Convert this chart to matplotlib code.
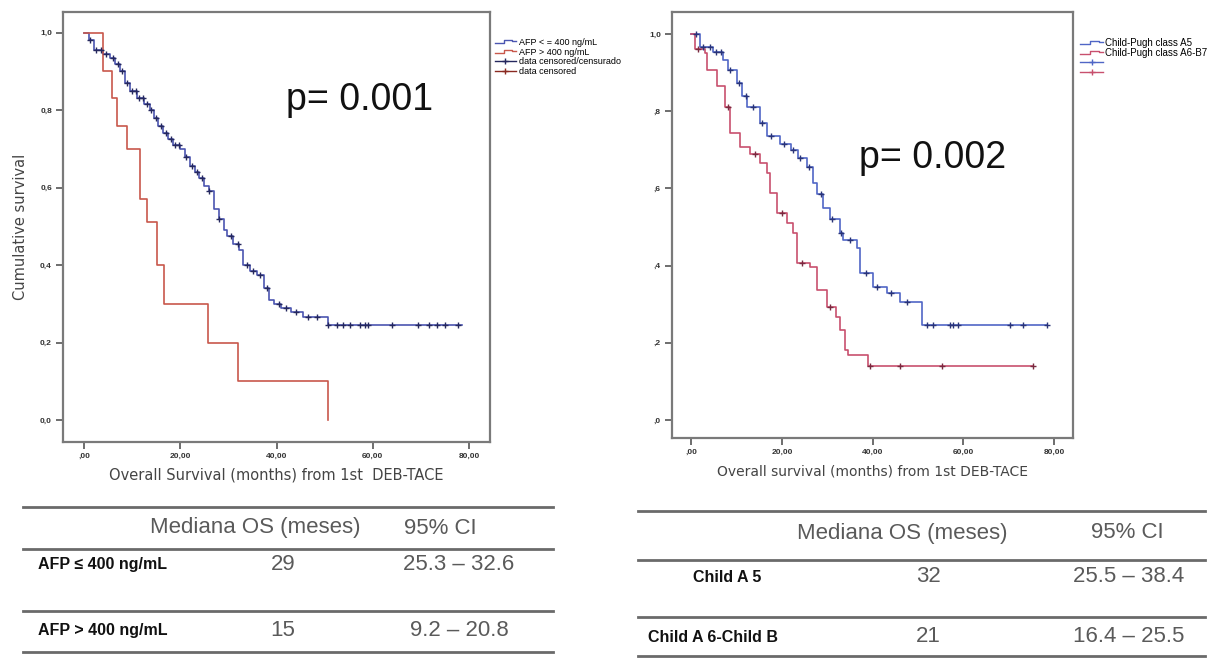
import numpy as np
import matplotlib
matplotlib.use("Agg")
import matplotlib.pyplot as plt
from matplotlib.lines import Line2D
from matplotlib.legend_handler import HandlerBase

plt.rcParams['font.family'] = ['Liberation Sans', 'DejaVu Sans']

# ---------------- data ----------------
# Left panel: AFP
afp_low_t = [0, 1, 2, 4, 5.5, 6.5, 7.5, 8.5, 9.5, 11, 12.5, 13.7, 14.5, 15.3, 16.5, 17.5, 18.5, 20,
             21, 22, 23, 24, 25, 26, 27, 28, 29, 29.8, 31, 32.3, 33.1, 34.5, 36, 37.3, 38.5, 39.5,
             41, 43, 45.5, 50.7]
afp_low_s = [1.0, 0.98, 0.955, 0.945, 0.935, 0.92, 0.90, 0.87, 0.85, 0.83, 0.815, 0.80, 0.78, 0.76,
             0.74, 0.725, 0.71, 0.70, 0.68, 0.655, 0.64, 0.625, 0.605, 0.59, 0.545, 0.52, 0.49, 0.475,
             0.455, 0.44, 0.40, 0.385, 0.375, 0.34, 0.31, 0.30, 0.29, 0.28, 0.265, 0.245]
afp_low_end = 78.5
afp_low_cens = [1.2, 2.5, 3.5, 4.5, 6.0, 7.0, 8.0, 9.0, 10.0, 10.8, 11.5, 12.3, 13.0, 14.0, 15.0, 16.0,
                17.0, 18.0, 19.0, 19.8, 21.2, 22.5, 23.5, 24.5, 26.0, 28.0, 30.5, 32.0, 33.8, 35.2,
                36.5, 38.0, 40.5, 42.0, 44.0, 46.5, 48.5, 50.8, 52.5, 53.9, 55.3, 57.3, 58.4, 59.1,
                63.9, 69.5, 71.6, 73.3, 75.0, 77.8]

afp_high_t = [0, 4.0, 5.8, 6.8, 8.9, 11.6, 13.0, 15.1, 16.6, 25.8, 32.0, 50.8]
afp_high_s = [1.0, 0.90, 0.83, 0.76, 0.70, 0.57, 0.51, 0.40, 0.30, 0.20, 0.10, 0.0]

# Right panel: Child-Pugh
cp5_t = [0, 1.9, 4.8, 7.0, 8.1, 10.0, 11.2, 12.2, 15.1, 16.6, 19.5, 22.0, 23.5, 25.4, 26.9, 27.6,
         29.0, 30.6, 32.8, 33.5, 36.5, 37.2, 40.1, 43.1, 46.0, 50.8]
cp5_s = [1.0, 0.967, 0.954, 0.933, 0.907, 0.872, 0.84, 0.81, 0.769, 0.735, 0.715, 0.70, 0.68, 0.656,
         0.613, 0.585, 0.55, 0.52, 0.484, 0.466, 0.445, 0.38, 0.345, 0.328, 0.306, 0.246]
cp5_end = 78.4
cp5_cens = [1.0, 2.5, 4.0, 5.5, 6.5, 8.5, 10.5, 12.0, 13.5, 15.5, 17.5, 20.5, 22.5, 24.0, 26.0,
            28.5, 31.0, 33.0, 35.0, 38.5, 41.0, 44.0, 47.5, 51.9, 53.4, 57.1, 57.8, 58.9, 70.3,
            73.2, 78.4]

cp6_t = [0, 0.8, 2.9, 3.4, 5.6, 7.4, 8.5, 10.7, 12.9, 15.1, 16.6, 17.3, 18.8, 21.0, 22.5, 23.2,
         26.2, 27.6, 29.8, 32.0, 32.8, 33.9, 34.6, 39.0]
cp6_s = [1.0, 0.96, 0.95, 0.907, 0.864, 0.81, 0.743, 0.708, 0.69, 0.665, 0.639, 0.587, 0.535, 0.51,
         0.484, 0.406, 0.397, 0.337, 0.294, 0.268, 0.233, 0.181, 0.168, 0.14]
cp6_end = 75.4
cp6_cens = [1.5, 8.0, 14.0, 20.0, 24.5, 30.5, 39.4, 46.0, 55.2, 75.4]

x_ticks = [0, 20, 40, 60, 80]
x_ticklabels = [",00", "20,00", "40,00", "60,00", "80,00"]
y_ticks = [0.0, 0.2, 0.4, 0.6, 0.8, 1.0]
y_ticklabels_left = ["0,0", "0,2", "0,4", "0,6", "0,8", "1,0"]
y_ticklabels_right = [",0", ",2", ",4", ",6", ",8", "1,0"]

left_legend = ["AFP < = 400 ng/mL", "AFP > 400 ng/mL", "data censored/censurado", "data censored"]
right_legend = ["Child-Pugh class A5", "Child-Pugh class A6-B7", "", ""]

table_header = ["Mediana OS (meses)", "95% CI"]
left_rows = ["AFP \u2264 400 ng/mL", "AFP > 400 ng/mL"]
left_median = ["29", "15"]
left_ci = ["25.3 \u2013 32.6", "9.2 \u2013 20.8"]
right_rows = ["Child A 5", "Child A 6-Child B"]
right_median = ["32", "21"]
right_ci = ["25.5 \u2013 38.4", "16.4 \u2013 25.5"]

# ---------------- figure ----------------
W, H = 1230, 660
fig = plt.figure(figsize=(W / 100, H / 100), dpi=100)


def fx(px):
    return px / W


def fy(py):
    return 1 - py / H


def step_val(t, s, x):
    i = np.searchsorted(np.array(t), x, side='right') - 1
    return np.array(s)[np.clip(i, 0, len(s) - 1)]


def km(ax, t, s, end, color, mcolor, cens=None):
    tt = list(t)
    ss = list(s)
    if end is not None:
        tt = tt + [end]
        ss = ss + [ss[-1]]
    ax.step(tt, ss, where='post', color=color, lw=1.2, zorder=3)
    if cens:
        c = np.array(cens)
        ax.plot(c, step_val(t, s, c), ls='none', marker='+', ms=4, mew=1.0, color=mcolor, zorder=4)


def style_axes(ax, yl):
    for sp in ax.spines.values():
        sp.set_color('#7a7a7a')
        sp.set_linewidth(1.6)
    ax.set_xticks(x_ticks)
    ax.set_xticklabels(x_ticklabels)
    ax.set_yticks(y_ticks)
    ax.set_yticklabels(yl)
    ax.tick_params(axis='both', direction='out', length=5, width=1.2, color='#555555',
                   labelsize=6, labelcolor='#333333', pad=3)
    for lab in ax.get_xticklabels() + ax.get_yticklabels():
        lab.set_fontweight('bold')


class StepHandler(HandlerBase):
    def create_artists(self, legend, orig_handle, xdescent, ydescent, width, height, fontsize, trans):
        x0 = -xdescent
        y0 = -ydescent
        if orig_handle.get_marker() not in (None, 'None', ''):
            xs = [x0, x0 + width]
            ys = [y0 + height * 0.5] * 2
            ln = Line2D(xs, ys, color=orig_handle.get_color(), lw=1.0)
            mk = Line2D([x0 + width * 0.5], [y0 + height * 0.5], color=orig_handle.get_color(),
                        marker='+', ms=5, mew=1.0, ls='none')
            ln.set_transform(trans)
            mk.set_transform(trans)
            return [ln, mk]
        xs = [x0, x0 + width * 0.45, x0 + width * 0.45, x0 + width * 0.8, x0 + width * 0.8, x0 + width]
        ys = [y0 + height * 0.25, y0 + height * 0.25, y0 + height * 0.75, y0 + height * 0.75,
              y0 + height * 0.55, y0 + height * 0.55]
        ln = Line2D(xs, ys, color=orig_handle.get_color(), lw=1.0)
        ln.set_transform(trans)
        return [ln]


# Left axes
axL = fig.add_axes([fx(63), fy(442), fx(490 - 63), (442 - 12) / H])
axL.set_xlim(-4.36, 84.36)
axL.set_ylim(-0.0568, 1.053)
km(axL, afp_low_t, afp_low_s, afp_low_end, '#4b55b0', '#25285e', afp_low_cens)
km(axL, afp_high_t, afp_high_s, None, '#c8584c', '#8a2a22')
style_axes(axL, y_ticklabels_left)
axL.set_xlabel("Overall Survival (months) from 1st  DEB-TACE", fontsize=10.5, color='#444444',
               labelpad=5, family=['DejaVu Sans'])
axL.set_ylabel("Cumulative survival", fontsize=10.5, color='#444444', labelpad=9,
               family=['DejaVu Sans'])
axL.text(0.695, 0.795, "p= 0.001", transform=axL.transAxes, fontsize=27, ha='center', va='center',
         color='#111111')

# Right axes
axR = fig.add_axes([fx(672), fy(438), fx(1073 - 672), (438 - 12) / H])
axR.set_xlim(-4.30, 84.2)
axR.set_ylim(-0.0466, 1.057)
km(axR, cp5_t, cp5_s, cp5_end, '#5066c6', '#2a3478', cp5_cens)
km(axR, cp6_t, cp6_s, cp6_end, '#c8506e', '#7a2a40', cp6_cens)
style_axes(axR, y_ticklabels_right)
axR.set_xlabel("Overall survival (months) from 1st DEB-TACE", fontsize=10, color='#444444',
               labelpad=6, family=['DejaVu Sans'])
axR.text(0.651, 0.657, "p= 0.002", transform=axR.transAxes, fontsize=27, ha='center', va='center',
         color='#111111')

# Legends
hL = [Line2D([], [], color='#4b55b0'),
      Line2D([], [], color='#c8584c'),
      Line2D([], [], color='#25285e', marker='+'),
      Line2D([], [], color='#8a2a22', marker='+')]
fig.legend(hL, left_legend, loc='upper left', bbox_to_anchor=(fx(491), fy(34)), frameon=False,
           fontsize=6.5, handlelength=2.4, handletextpad=0.3, labelspacing=0.1, borderaxespad=0,
           handler_map={Line2D: StepHandler()})
hR = [Line2D([], [], color='#5066c6'),
      Line2D([], [], color='#c8506e'),
      Line2D([], [], color='#5066c6', marker='+'),
      Line2D([], [], color='#c8506e', marker='+')]
fig.legend(hR, right_legend, loc='upper left', bbox_to_anchor=(fx(1076), fy(34)), frameon=False,
           fontsize=7, handlelength=2.4, handletextpad=0.2, labelspacing=0.0, borderaxespad=0,
           handler_map={Line2D: StepHandler()})


# Tables
def hline(x0, x1, y):
    fig.add_artist(Line2D([fx(x0), fx(x1)], [fy(y), fy(y)], color='#6a6a6a', lw=2.0))


hdr_kw = dict(fontsize=16, color='#5a5a5a', ha='center', va='center')
val_kw = dict(fontsize=16, color='#5a5a5a', ha='center', va='center')
row_kw = dict(fontsize=11.5, color='#111111', fontweight='bold', ha='left', va='center')

# left table
for y in [507, 549, 611, 652]:
    hline(23, 553, y)
fig.text(fx(255), fy(528), table_header[0], **hdr_kw)
fig.text(fx(440), fy(528), table_header[1], **hdr_kw)
for i, yy in enumerate([565, 630]):
    fig.text(fx(38), fy(yy), left_rows[i], **row_kw)
    fig.text(fx(283), fy(yy), left_median[i], **val_kw)
    fig.text(fx(459), fy(yy), left_ci[i], **val_kw)

# right table
for y in [511, 560, 617, 656]:
    hline(638, 1205, y)
fig.text(fx(902), fy(533), table_header[0], **hdr_kw)
fig.text(fx(1127), fy(533), table_header[1], **hdr_kw)
for i, (yy, xx) in enumerate([(577, 693), (637, 648)]):
    fig.text(fx(xx), fy(yy), right_rows[i], **row_kw)
    fig.text(fx(928), fy(yy), right_median[i], **val_kw)
    fig.text(fx(1129), fy(yy), right_ci[i], **val_kw)

fig.savefig("out.png", dpi=100)
